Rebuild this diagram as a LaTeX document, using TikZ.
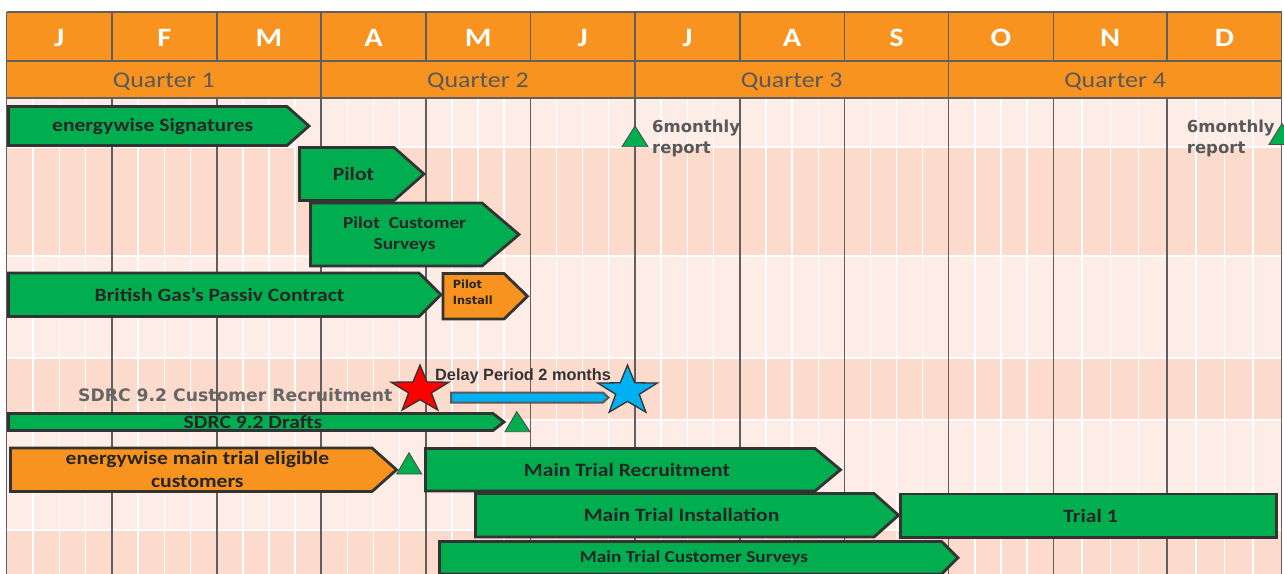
\documentclass[tikz,border=0pt]{standalone}
\usepackage{fontspec}
\setmainfont{Carlito}[FakeStretch=1.15]
\newfontfamily\verdfont{DejaVu Sans}
\newfontfamily\arialfont{Liberation Sans}

\definecolor{ganttorange}{HTML}{F7931E}
\definecolor{ganttgreen}{HTML}{00AE4F}
\definecolor{bandlight}{HTML}{FDEDE6}
\definecolor{banddark}{HTML}{FCDBCC}
\definecolor{gridgrey}{HTML}{5F5F5F}
\definecolor{barline}{HTML}{333333}
\definecolor{labelgrey}{HTML}{595959}
\definecolor{textdark}{HTML}{262626}
\definecolor{delayblue}{HTML}{00B0F0}

\tikzset{
	monthline/.style={draw=gridgrey, line width=1.5pt},
	weekline/.style={draw=white, line width=1.5pt},
	monthtext/.style={font=\bfseries\fontsize{26.5}{30}\selectfont, text=white, anchor=base, inner sep=0pt},
	quartertext/.style={font=\fontsize{22.5}{26}\selectfont, text=labelgrey, anchor=base, inner sep=0pt},
	taskbar/.style={draw=barline, line width=2.8pt, line join=miter},
	tasktext/.style={font=\bfseries\fontsize{18.8}{23.4}\selectfont, text=textdark, inner sep=0pt, align=center},
	smalltext/.style={font=\bfseries\fontsize{16.8}{21}\selectfont, text=textdark, inner sep=0pt, align=center},
	milestone/.style={draw=black!70, line width=0.9pt, fill=ganttgreen, line join=miter},
	reporttext/.style={font=\verdfont\bfseries\fontsize{16.5}{21}\selectfont, text=labelgrey, inner sep=0pt, anchor=base west, align=left},
	starline/.style={draw=barline, line width=1.3pt, line join=miter},
}

\begin{document}
\begin{tikzpicture}[x=1pt, y=-1pt]
	\useasboundingbox (0,0) rectangle (1284,573);
	\clip (0,0) rectangle (1284,573);
	\fill[white] (0,0) rectangle (1284,573);
	
	%Bands
	\foreach \ya/\yb/\c in {98/147/bandlight, 147/256/banddark, 256/358/bandlight, 358/420/banddark, 420/530/bandlight, 530/575/banddark}
	\fill[\c] (6.5,\ya) rectangle (1281.6,\yb);
	
	%Weeks
	\foreach \a/\b in {6.5/112, 112/216.8, 216.8/321.1, 321.1/425.9, 425.9/530.3, 530.3/634.8, 634.8/739.9, 739.9/844.5, 844.5/948.7, 948.7/1053.3, 1053.3/1167.2, 1167.2/1281.6}
	\foreach \k in {1,2,3}
	\draw[weekline] ({\a+\k*(\b-\a)/4},98) -- ++(0,477);
	\foreach \y in {147,256,358,420,530}
	\draw[weekline] (6.5,\y) -- (1281.6,\y);
	
	%Header
	\fill[ganttorange] (6.5,12) rectangle (1281.6,98);
	\draw[monthline] (6.5,12) -- (1281.6,12) (6.5,61) -- (1281.6,61) (6.5,98) -- (1281.6,98);
	\foreach \a/\b/\m [count=\i] in {6.5/112/J, 112/216.8/F, 216.8/321.1/M, 321.1/425.9/A, 425.9/530.3/M, 530.3/634.8/J, 634.8/739.9/J, 739.9/844.5/A, 844.5/948.7/S, 948.7/1053.3/O, 1053.3/1167.2/N, 1167.2/1281.6/D}{
		\draw[monthline] (\a,12) -- (\a,61);
		\draw[monthline] (\a,98) -- (\a,575);
		\node[monthtext] (month\i) at ({(\a+\b)/2},46.7) {\m};
	}
	\draw[monthline] (1281.6,12) -- (1281.6,575);
	\foreach \a/\b/\q in {6.5/321.1/1, 321.1/634.8/2, 634.8/948.7/3, 948.7/1281.6/4}{
		\draw[monthline] (\a,61) -- (\a,98);
		\node[quartertext] (quarter\q) at ({(\a+\b)/2},87.3) {Quarter \q};
	}
	
	%Pilot phase
	\draw[taskbar, fill=ganttgreen] (8.5,106.5) -- (287,106.5) -- (309,126) -- (287,145.5) -- (8.5,145.5) -- cycle;
	\node[tasktext] (signatures) at (152.7,126) {energywise Signatures};
	\draw[taskbar, fill=ganttgreen] (299.5,147.5) -- (394,147.5) -- (424,174) -- (394,200.5) -- (299.5,200.5) -- cycle;
	\node[tasktext] (pilot) at (353.5,174) {Pilot};
	\draw[taskbar, fill=ganttgreen] (310.5,203) -- (482,203) -- (519,234.5) -- (482,266) -- (310.5,266) -- cycle;
	\node[smalltext] (pilotsurveys) at (404.6,234.5) {Pilot\ \ Customer\\Surveys};
	\draw[taskbar, fill=ganttgreen] (8.5,273) -- (419,273) -- (441,294.75) -- (419,316.5) -- (8.5,316.5) -- cycle;
	\node[tasktext] (passiv) at (219.5,295) {British Gas’s Passiv Contract};
	\draw[taskbar, fill=ganttorange] (443,273.5) -- (504,273.5) -- (527.5,296.25) -- (504,319) -- (443,319) -- cycle;
	\node[font=\verdfont\bfseries\fontsize{11.3}{15.7}\selectfont, text=textdark, inner sep=0pt, anchor=base west, align=left] (install) at (452.7,304) {Pilot\\Install};
	
	%6monthly reports
	\draw[milestone] (622,146.7) -- (648,146.7) -- (635,126) -- cycle;
	\node[reporttext] (reportA) at (652,153.3) {6monthly\\report};
	\draw[milestone] (1269,144.5) -- (1295,144.5) -- (1282,123.5) -- cycle;
	\node[reporttext] (reportB) at (1186.7,153.3) {6monthly\\report};
	
	%SDRC 9.2
	\node[font=\verdfont\bfseries\fontsize{17.2}{21}\selectfont, text=black!60, inner sep=0pt, anchor=base west] (sdrc) at (78,401) {SDRC 9.2 Customer Recruitment};
	\node[font=\arialfont\bfseries\fontsize{16.3}{20}\selectfont, text=barline, inner sep=0pt, anchor=base west] (delay) at (435,380.7) {Delay Period 2 months};
	\draw[draw=black!65, line width=2pt, fill=delayblue, line join=miter] (451,392.5) -- (603,392.5) -- (608.5,397.5) -- (603,402.5) -- (451,402.5) -- cycle;
	\begin{scope}[shift={(420,389.9)}, xscale=1.22]
		\draw[starline, fill=red] (-90:24.9) \foreach \k in {1,...,9} { -- ({-90+36*\k}:{ifthenelse(mod(\k,2)==1,9.8,24.9)}) } -- cycle;
	\end{scope}
	\begin{scope}[shift={(627.5,391.1)}, xscale=1.2]
		\draw[starline, fill=delayblue] (-90:26.1) \foreach \k in {1,...,9} { -- ({-90+36*\k}:{ifthenelse(mod(\k,2)==1,10.3,26.1)}) } -- cycle;
	\end{scope}
	\draw[taskbar, fill=ganttgreen] (8.5,413.5) -- (493,413.5) -- (504,422) -- (493,430.5) -- (8.5,430.5) -- cycle;
	\node[tasktext] (drafts) at (253,422) {SDRC 9.2 Drafts};
	\draw[milestone] (505,431.7) -- (530,431.7) -- (516.7,411.7) -- cycle;
	
	%Main trial
	\draw[taskbar, fill=ganttorange] (10.5,448) -- (372,448) -- (396.5,469.75) -- (372,491.5) -- (10.5,491.5) -- cycle;
	\node[tasktext] (eligible) at (197.4,469.7) {energywise main trial eligible\\customers};
	\draw[milestone] (396.7,474) -- (421.7,474) -- (409,452.7) -- cycle;
	\draw[taskbar, fill=ganttgreen] (425.5,448.5) -- (815,448.5) -- (840.5,469.75) -- (815,491) -- (425.5,491) -- cycle;
	\node[tasktext] (mtrecruit) at (627,469.75) {Main Trial Recruitment};
	\draw[taskbar, fill=ganttgreen] (475.5,493.5) -- (874,493.5) -- (898.5,515.25) -- (874,537) -- (475.5,537) -- cycle;
	\node[tasktext] (mtinstall) at (681.5,515.25) {Main Trial Installation};
	\draw[taskbar, fill=ganttgreen] (900.5,494) rectangle (1276.5,537.5);
	\node[tasktext] (trial) at (1090.5,515.5) {Trial 1};
	\draw[taskbar, fill=ganttgreen] (439.5,541.5) -- (941.5,541.5) -- (958,557.75) -- (941.5,574) -- (439.5,574) -- cycle;
	\node[smalltext] (mtsurveys) at (694,557.75) {Main Trial Customer Surveys};
	
\end{tikzpicture}
\end{document}
